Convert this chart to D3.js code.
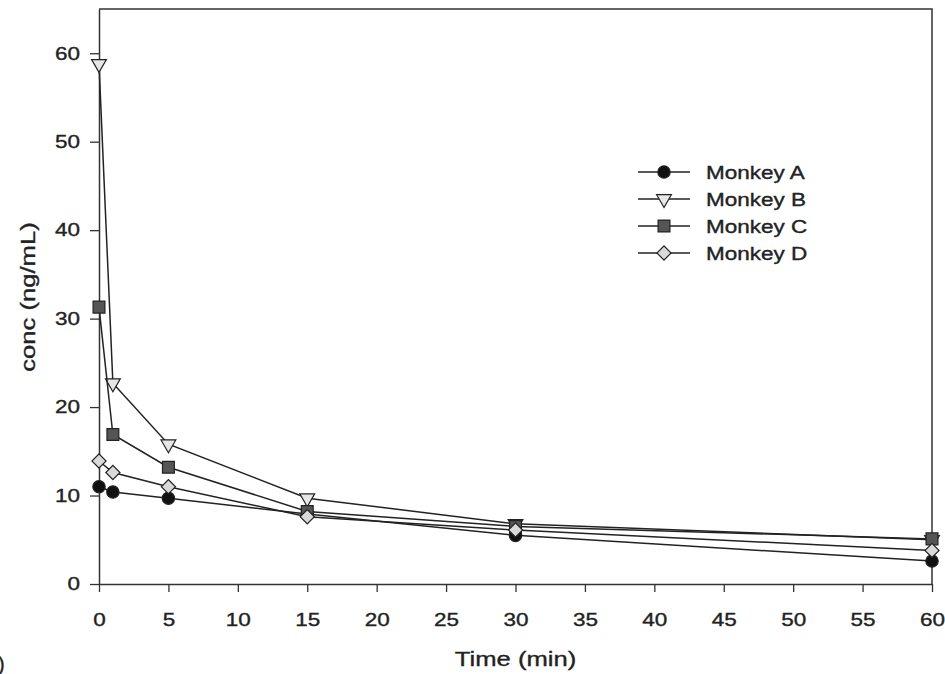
<!DOCTYPE html>
<html>
<head>
<meta charset="utf-8">
<script src="https://cdn.jsdelivr.net/npm/d3@7"></script>
<style>
  body { margin: 0; background: #fff; }
  text { font-family: "Liberation Sans", Arial, sans-serif; fill: #222; stroke: #222; stroke-width: 0.35px; }
</style>
</head>
<body>
<div class="chart"></div>
<script>
// data
let times = [0, 1, 5, 15, 30, 60];
let monkeyA = [11.0, 10.4, 9.7, 7.9, 5.5, 2.6];
let monkeyB = [58.8, 22.7, 15.8, 9.7, 6.8, 5.0];
let monkeyC = [31.3, 16.9, 13.2, 8.2, 6.5, 5.1];
let monkeyD = [13.9, 12.6, 11.0, 7.6, 6.1, 3.8];
let seriesNames = ["Monkey A", "Monkey B", "Monkey C", "Monkey D"];
let xTicks = [0, 5, 10, 15, 20, 25, 30, 35, 40, 45, 50, 55, 60];
let yTicks = [0, 10, 20, 30, 40, 50, 60];

let svgWidth = 945;
let svgHeight = 674;
let stretch = 1.25;

let margin = { top: 9, right: 13, bottom: 90, left: 99 };
let width = svgWidth - margin.left - margin.right;
let height = svgHeight - margin.top - margin.bottom;

let svg = d3.select(".chart")
  .append("svg")
  .attr("width", svgWidth)
  .attr("height", svgHeight);

let chartGroup = svg.append("g")
  .attr("transform", `translate(${margin.left}, ${margin.top})`);

let xScale = d3.scaleLinear().domain([0, 60]).range([0, width]);
let yScale = d3.scaleLinear().domain([0, 65]).range([height, 0]);

// frame (top and right)
chartGroup.append("path")
  .attr("d", `M0,0H${width}V${height}`)
  .attr("fill", "none")
  .attr("stroke", "#333")
  .attr("stroke-width", 1.5);

let bottomAxis = d3.axisBottom(xScale).tickValues(xTicks).tickSize(8).tickPadding(21).tickSizeOuter(0);
let leftAxis = d3.axisLeft(yScale).tickValues(yTicks).tickSize(9).tickPadding(10).tickSizeOuter(0);

let xAxisG = chartGroup.append("g")
  .attr("transform", `translate(0, ${height})`)
  .call(bottomAxis);

let yAxisG = chartGroup.append("g")
  .call(leftAxis);

[xAxisG, yAxisG].forEach(g => {
  g.select(".domain").attr("stroke", "#333").attr("stroke-width", 1.5);
  g.selectAll(".tick line").attr("stroke", "#333").attr("stroke-width", 1.3);
  g.selectAll(".tick text")
    .attr("font-size", 18)
    .attr("font-family", "Liberation Sans, Arial, sans-serif")
    .attr("fill", "#222");
});
xAxisG.selectAll(".tick text").attr("transform", `scale(${stretch},1)`);
yAxisG.selectAll(".tick text")
  .attr("x", -19 / stretch)
  .attr("transform", `scale(${stretch},1)`);

// axis titles
chartGroup.append("text")
  .attr("transform", `translate(${xScale(30)}, ${height + 82}) scale(1.22,1)`)
  .attr("text-anchor", "middle")
  .attr("font-size", 21)
  .text("Time (min)");

chartGroup.append("text")
  .attr("transform", `translate(${35 - margin.left}, ${297 - margin.top}) rotate(-90) scale(1.22,1)`)
  .attr("text-anchor", "middle")
  .attr("font-size", 21)
  .text("conc (ng/mL)");

// markers
let symbols = [
  { type: d3.symbolCircle, size: 120, fill: "#111", rotate: 0 },
  { type: d3.symbolTriangle, size: 95, fill: "#e6e6e6", rotate: 180 },
  { type: d3.symbolSquare, size: 140, fill: "#555", rotate: 0 },
  { type: d3.symbolSquare, size: 100, fill: "#d9d9d9", rotate: 45 }
];

let allSeries = [monkeyA, monkeyB, monkeyC, monkeyD];

let line = d3.line()
  .x(d => xScale(d.t))
  .y(d => yScale(d.v));

allSeries.forEach((vals, i) => {
  let pts = times.map((t, j) => ({ t: t, v: vals[j] }));
  chartGroup.append("path")
    .datum(pts)
    .attr("d", line)
    .attr("fill", "none")
    .attr("stroke", "#222")
    .attr("stroke-width", 1.5);

  chartGroup.selectAll(".m" + i)
    .data(pts)
    .enter()
    .append("path")
    .attr("class", "m" + i)
    .attr("d", d3.symbol().type(symbols[i].type).size(symbols[i].size))
    .attr("transform", d => `translate(${xScale(d.t)}, ${yScale(d.v)}) rotate(${symbols[i].rotate})`)
    .attr("fill", symbols[i].fill)
    .attr("stroke", "#222")
    .attr("stroke-width", 1.2);
});

// legend
let legend = svg.append("g").attr("transform", "translate(638, 172)");
seriesNames.forEach((name, i) => {
  let row = legend.append("g").attr("transform", `translate(0, ${i * 27})`);
  row.append("line")
    .attr("x1", 0).attr("x2", 52)
    .attr("stroke", "#222").attr("stroke-width", 1.5);
  row.append("path")
    .attr("d", d3.symbol().type(symbols[i].type).size(symbols[i].size))
    .attr("transform", `translate(26, 0) rotate(${symbols[i].rotate})`)
    .attr("fill", symbols[i].fill)
    .attr("stroke", "#222")
    .attr("stroke-width", 1.2);
  row.append("text")
    .attr("transform", `translate(68, 6.5) scale(${stretch},1)`)
    .attr("font-size", 18)
    .text(name);
});

// panel label, cut off at the left edge as in the source figure
svg.append("text")
  .attr("x", -2)
  .attr("y", 671)
  .attr("font-size", 20)
  .text(")");
</script>
</body>
</html>
